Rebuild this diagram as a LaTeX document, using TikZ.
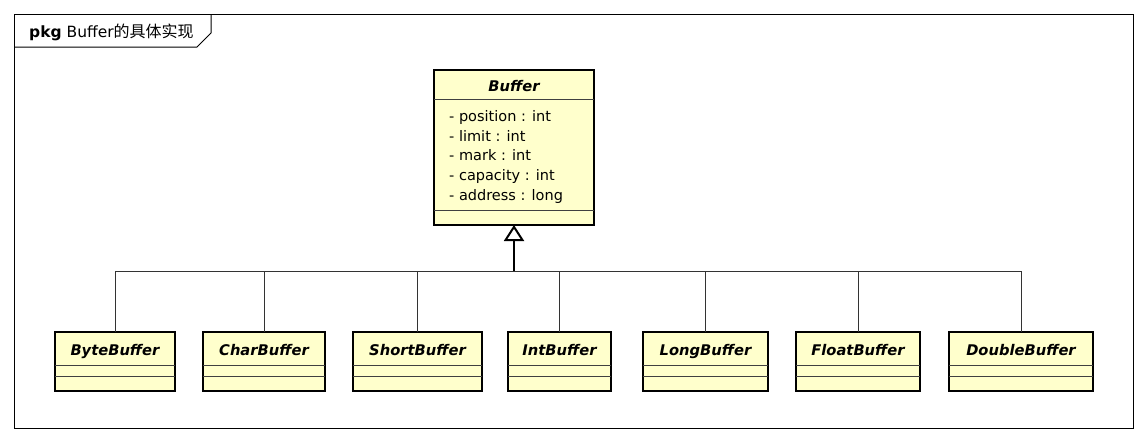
\documentclass[tikz,border=0pt]{standalone}
\usepackage{fontspec}
\setmainfont{DejaVu Sans}
\newfontfamily\cjk{Noto Sans CJK SC}
\usetikzlibrary{arrows.meta}
\definecolor{clsfill}{HTML}{FFFFCC}
\definecolor{linegray}{HTML}{333333}
\tikzset{
  clsbox/.style={draw=black, line width=2.5pt, fill=clsfill, inner sep=0pt, outer sep=0pt},
  sepline/.style={draw=black!75, line width=1pt},
  clstitle/.style={font=\fontsize{14.7}{18}\selectfont\bfseries\itshape, inner sep=0pt, anchor=base},
  attrtext/.style={font=\fontsize{14.5}{19.8}\selectfont, inner sep=0pt, align=left, anchor=north west},
  branch/.style={draw=linegray, line width=1pt},
  mainline/.style={draw=black, line width=2pt},
  frameline/.style={draw=black, line width=1pt},
}
\newcommand\childcls[4]{%
  \node[clsbox, minimum width={#3-#2}, minimum height=59, anchor=north west] (#1) at (#2,332) {};
  \draw[sepline] (#2,365) -- (#3,365);
  \draw[sepline] (#2,376) -- (#3,376);
  \node[clstitle] (#1-t) at ({(#2+#3)/2},355) {#4};
}
\begin{document}
\begin{tikzpicture}[x=1pt,y=-1pt]
\useasboundingbox (0,0) rectangle (1146,442);
% frame
\draw[frameline] (14,14) rectangle (1133,428);
\draw[frameline] (14,47) -- (197,47) -- (211,33) -- (211,14);
\node[anchor=base west, inner sep=0pt, font=\fontsize{15.5}{18}\selectfont] (pkglabel) at (29,37) {\textbf{pkg} Buffer{\cjk\fontsize{16}{18}\selectfont 的具体实现}};
% parent
\node[clsbox, minimum width=160, minimum height=155, anchor=north west] (buffer) at (434,70) {};
\draw[sepline] (434,99) -- (594,99);
\draw[sepline] (434,210) -- (594,210);
\node[clstitle] (buffer-t) at (514,91) {Buffer};
\node[attrtext] (buffer-a) at (449,110) {- position : int\\- limit : int\\- mark : int\\- capacity : int\\- address : long};
% children
\childcls{byte}{55}{175}{ByteBuffer}
\childcls{char}{203}{325}{CharBuffer}
\childcls{short}{353}{482}{ShortBuffer}
\childcls{int}{508}{611}{IntBuffer}
\childcls{long}{643}{768}{LongBuffer}
\childcls{float}{796}{920}{FloatBuffer}
\childcls{double}{949}{1093}{DoubleBuffer}
% connectors
\coordinate (junction) at (514,271);
\foreach \c in {byte,char,short,int,long,float,double}{
  \draw[branch] (\c.north) |- (junction);
}
\draw[mainline, -{Triangle[open, length=16pt, width=20pt, line width=2pt]}] (junction) -- (buffer.south);
\end{tikzpicture}
\end{document}
